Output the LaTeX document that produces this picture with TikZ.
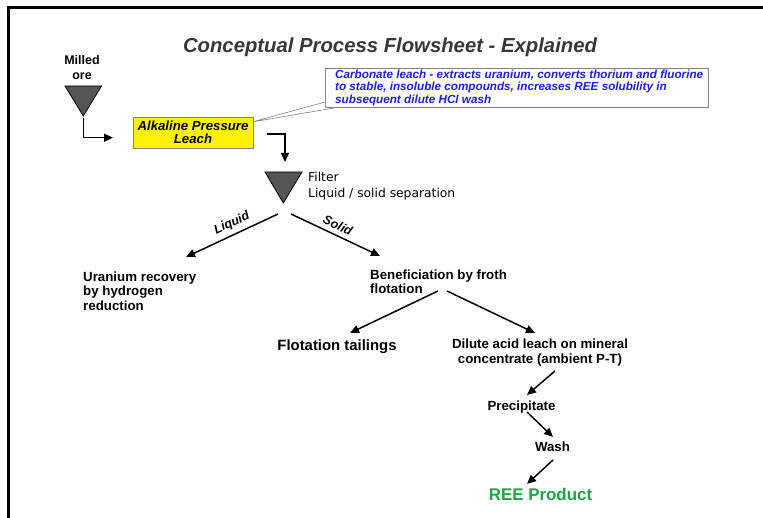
\documentclass[tikz,border=0pt]{standalone}
\usepackage{fontspec}
\setmainfont{Liberation Sans}
\newfontfamily\dejavu{DejaVu Sans}
\usetikzlibrary{arrows.meta}
\definecolor{titlegray}{RGB}{55,55,55}
\definecolor{trifill}{RGB}{85,85,85}
\definecolor{calloutblue}{RGB}{30,30,230}
\definecolor{reegreen}{RGB}{35,160,70}
\definecolor{boxgray}{RGB}{130,130,130}
\begin{document}
\begin{tikzpicture}[x=1pt,y=-1pt,
  arr/.style={line width=1.5pt,-{Triangle[length=9pt,width=8pt]}},
  rarr/.style={line width=1.5pt,{Triangle[length=9pt,width=8pt]}-},
  txt/.style={font=\bfseries\fontsize{13.3}{14.5}\selectfont,inner sep=0pt},
  slab/.style={font=\bfseries\itshape\fontsize{12.5}{14}\selectfont,inner sep=1pt},
  tri/.style={fill=trifill,draw=black,line width=0.8pt},
]
\useasboundingbox (0,0) rectangle (763,518);
\fill[white] (0,0) rectangle (763,518);
\draw[line width=3pt] (763,7.5) -- (8.5,7.5) -- (8.5,518);

\node[font=\bfseries\itshape\fontsize{20.3}{22}\selectfont,text=titlegray,anchor=base,inner sep=0pt] (title) at (390,52.7) {Conceptual Process Flowsheet - Explained};

% milled ore
\node[font=\bfseries\fontsize{12.5}{14.3}\selectfont,align=center,anchor=base,inner sep=0pt] (milled) at (82,79.3) {Milled\\ore};
\draw[tri] (65,86) -- (101.5,86) -- (83.3,116) -- cycle;
\coordinate (mapex) at (83.3,118);
\coordinate (mtip) at (113,137.7);
\draw[arr] (mapex) |- (mtip);

% callout
\filldraw[fill=white,draw=boxgray,line width=0.6pt] (252,122) -- (325,102) -- (338,107.3) -- cycle;
\node[draw=boxgray,fill=white,line width=1pt,minimum width=383pt,minimum height=39.3pt,anchor=north west,inner sep=0pt] (callout) at (325,68) {};
\node[font=\bfseries\itshape\fontsize{11.7}{12.6}\selectfont,text=calloutblue,align=left,anchor=base west,inner sep=0pt] (ctext) at (335,103.3) {Carbonate leach - extracts uranium, converts thorium and fluorine\\to stable, insoluble compounds, increases REE solubility in\\subsequent dilute HCl wash};

% alkaline pressure leach
\node[draw=boxgray,fill=yellow,line width=0.8pt,minimum width=119.7pt,minimum height=31.6pt,anchor=north west,inner sep=0pt] (apl) at (133,116.7) {};
\node[font=\bfseries\itshape\fontsize{13.2}{13.3}\selectfont,align=center,anchor=base,inner sep=0pt] (apltext) at (193,144) {Alkaline Pressure\\Leach};
\coordinate (aplout) at (267,134);
\coordinate (ftop) at (285,162);
\draw[arr] (aplout) -| (ftop);

% filter
\draw[tri] (265,172) -- (302,172) -- (283.3,203) -- cycle;
\node[font=\dejavu\fontsize{12.3}{15.7}\selectfont,align=left,anchor=base west,inner sep=0pt] (filt) at (308,197.7) {Filter\\Liquid / solid separation};

\coordinate (fl) at (278,214);
\coordinate (ul) at (186,257);
\coordinate (fs) at (291,214);
\coordinate (bs) at (380,256);
\draw[rarr] (ul) -- node[pos=0.55,sloped,above=3.5pt,slab]{Liquid} (fl);
\draw[arr] (fs) -- node[pos=0.48,sloped,above=3.5pt,slab]{Solid} (bs);

\node[txt,align=left,anchor=base west] (ur) at (83,310.5) {Uranium recovery\\by hydrogen\\reduction};
\node[txt,align=left,anchor=base west] (ben) at (370,294) {Beneficiation by froth\\flotation};

\coordinate (b1) at (438,291);
\coordinate (t1) at (350,333);
\coordinate (b2) at (447,291);
\coordinate (d1) at (535,333);
\draw[arr] (b1) -- (t1);
\draw[arr] (b2) -- (d1);

\node[font=\bfseries\fontsize{14.9}{16}\selectfont,inner sep=0pt,anchor=base] (tail) at (337,351) {Flotation tailings};
\node[font=\bfseries\fontsize{13.3}{15.7}\selectfont,inner sep=0pt,align=center,anchor=base] (dil) at (540,364) {Dilute acid leach on mineral\\concentrate (ambient P-T)};

\coordinate (d2) at (555,371);
\coordinate (p1) at (527,395);
\draw[arr] (d2) -- (p1);
\node[txt,anchor=base] (prec) at (521.5,410) {Precipitate};
\coordinate (p2) at (527,412);
\coordinate (w1) at (553,437);
\draw[arr] (p2) -- (w1);
\node[txt,anchor=base] (wash) at (552.5,451.7) {Wash};
\coordinate (w2) at (553,460);
\coordinate (r1) at (527,484);
\draw[arr] (w2) -- (r1);
\node[font=\bfseries\fontsize{16.9}{18}\selectfont,text=reegreen,inner sep=0pt,anchor=base] (ree) at (540.5,500.7) {REE Product};
\end{tikzpicture}
\end{document}
